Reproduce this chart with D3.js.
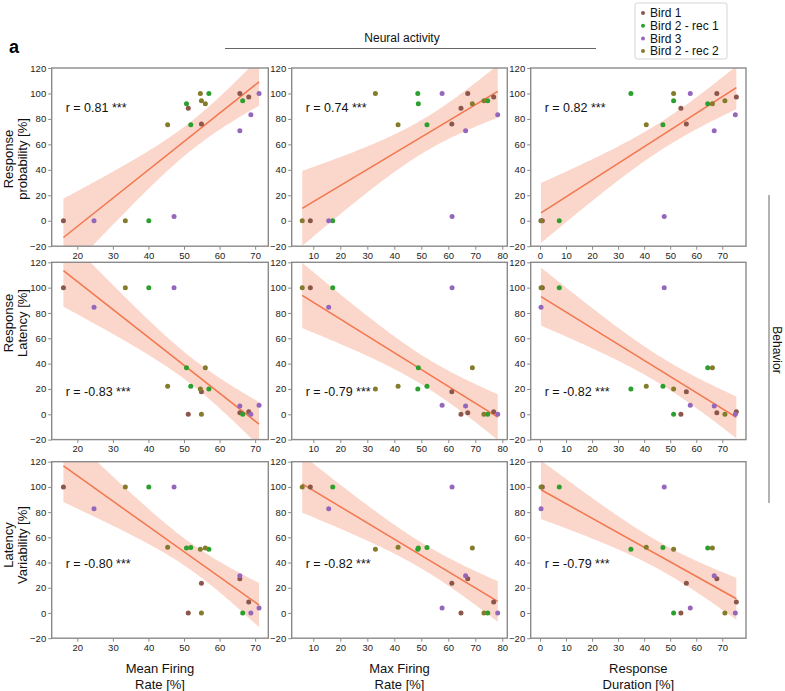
<!DOCTYPE html>
<html>
<head>
<meta charset="utf-8">
<script src="https://cdn.jsdelivr.net/npm/d3@7"></script>
<style>
  body { margin: 0; background: #fff; }
  svg { font-family: "Liberation Sans", Arial, sans-serif; }
</style>
</head>
<body>
<script>
// Birds (legend order)
const birds = ["Bird 1", "Bird 2 - rec 1", "Bird 3", "Bird 2 - rec 2"];

// x variables (neural activity), 5 units per bird
const meanFiring = [
  [16.1, 51.2, 54.9, 65.7, 68.2],
  [40.1, 50.7, 51.9, 57.0, 66.5],
  [24.7, 47.2, 65.7, 68.8, 71.1],
  [33.5, 45.4, 54.6, 54.9, 56.0]
];
const maxFiring = [
  [8.9, 64.7, 61.3, 67.2, 76.8],
  [17.2, 48.9, 52.1, 48.7, 74.6],
  [15.7, 61.4, 66.4, 78.3, 57.7],
  [5.9, 41.4, 33.0, 73.2, 68.9]
];
const respDuration = [
  [0.9, 54.1, 56.2, 67.9, 75.4],
  [7.4, 64.4, 47.2, 34.9, 51.3],
  [0.4, 47.7, 66.9, 75.0, 57.7],
  [0.4, 40.8, 51.3, 71.0, 66.2]
];

// y variables (behavior)
const respProbability = [
  [0, 88.3, 76.0, 100, 97.2],
  [0, 92.0, 75.4, 100, 94.3],
  [0, 3.4, 70.7, 83.3, 100],
  [0, 75.4, 100, 94.3, 92.0]
];
const respLatency = [
  [100, 0, 17.8, 1.3, 1.9],
  [100, 36.8, 22.1, 20.0, 0],
  [84.5, 100, 6.6, 0, 7.1],
  [100, 22.1, 20.0, 0, 36.8]
];
const latencyVariability = [
  [100, 0, 23.5, 27.2, 8.7],
  [100, 51.5, 52.0, 50.5, 0],
  [82.7, 100, 29.6, 0, 4.0],
  [100, 52.1, 50.5, 0, 51.5]
];

// correlation labels [row][col]
const rLabels = [
  ["r = 0.81 ***", "r = 0.74 ***", "r = 0.82 ***"],
  ["r = -0.83 ***", "r = -0.79 ***", "r = -0.82 ***"],
  ["r = -0.80 ***", "r = -0.82 ***", "r = -0.79 ***"]
];

const yTicks = [-20, 0, 20, 40, 60, 80, 100, 120];
const xTicks = [
  [20, 30, 40, 50, 60, 70],
  [10, 20, 30, 40, 50, 60, 70, 80],
  [0, 10, 20, 30, 40, 50, 60, 70]
];

const rowLabels = [["Response", "probability [%]"], ["Response", "Latency [%]"], ["Latency", "Variability [%]"]];
const colLabels = [["Mean Firing", "Rate [%]"], ["Max Firing", "Rate [%]"], ["Response", "Duration [%]"]];

// ---- layout / style ----
const birdColors = ["#8c564b", "#2ca02c", "#9467bd", "#847b2b"];
const lineColor = "#f2764e";
const frameColor = "#8a8a8a";

const colLeft = [51.7, 291.7, 530.7];
const colRight = [268.3, 507.3, 746];
const rowTop = [68, 262.3, 461.7];
const rowBottom = [246.2, 439.6, 638.2];
const xDomains = [[12.8, 73.7], [2.0, 81.85], [-3.57, 79.1]];
const rLabelY = [89, 18, 39];
const rowLabelY = [159, 323, 545];

const xCols = [meanFiring, maxFiring, respDuration];
const yRows = [respProbability, respLatency, latencyVariability];

const fmt = (d) => (d < 0 ? "\u2212" + Math.abs(d) : String(d));

const svg = d3
  .select("body")
  .append("svg")
  .attr("width", 785)
  .attr("height", 691);

const defs = svg.append("defs");

yRows.forEach((yData, r) => {
  xCols.forEach((xData, c) => {
    const x = d3.scaleLinear().domain(xDomains[c]).range([colLeft[c], colRight[c]]);
    const y = d3.scaleLinear().domain([-20, 120]).range([rowBottom[r], rowTop[r]]);

    const pts = [];
    birds.forEach((b, bi) => {
      xData[bi].forEach((xv, i) => {
        pts.push({ bird: bi, x: xv, y: yData[bi][i] });
      });
    });

    // linear fit + 95% confidence band
    const n = pts.length;
    const mx = d3.mean(pts, (p) => p.x);
    const my = d3.mean(pts, (p) => p.y);
    const sxx = d3.sum(pts, (p) => (p.x - mx) ** 2);
    const sxy = d3.sum(pts, (p) => (p.x - mx) * (p.y - my));
    const slope = sxy / sxx;
    const icpt = my - slope * mx;
    const sse = d3.sum(pts, (p) => (p.y - icpt - slope * p.x) ** 2);
    const s = Math.sqrt(sse / (n - 2));
    const t = 2.101; // t(0.975, df=18)
    const [x0, x1] = d3.extent(pts, (p) => p.x);
    const grid = d3.range(0, 101).map((k) => x0 + ((x1 - x0) * k) / 100);
    const band = grid.map((xv) => {
      const yh = icpt + slope * xv;
      const se = s * Math.sqrt(1 / n + (xv - mx) ** 2 / sxx);
      return { x: xv, lo: yh - t * se, hi: yh + t * se };
    });

    const clipId = "clip-" + r + "-" + c;
    defs
      .append("clipPath")
      .attr("id", clipId)
      .append("rect")
      .attr("x", colLeft[c])
      .attr("y", rowTop[r])
      .attr("width", colRight[c] - colLeft[c])
      .attr("height", rowBottom[r] - rowTop[r]);

    const g = svg.append("g");
    const clipped = g.append("g").attr("clip-path", "url(#" + clipId + ")");

    clipped
      .append("path")
      .datum(band)
      .attr("fill", lineColor)
      .attr("fill-opacity", 0.3)
      .attr(
        "d",
        d3
          .area()
          .x((d) => x(d.x))
          .y0((d) => y(d.lo))
          .y1((d) => y(d.hi))
      );

    clipped
      .append("line")
      .attr("x1", x(x0))
      .attr("y1", y(icpt + slope * x0))
      .attr("x2", x(x1))
      .attr("y2", y(icpt + slope * x1))
      .attr("stroke", lineColor)
      .attr("stroke-width", 1.5);

    // axes
    const yAxis = g
      .append("g")
      .attr("transform", "translate(" + colLeft[c] + ",0)")
      .call(d3.axisLeft(y).tickValues(yTicks).tickSize(3.5).tickPadding(2).tickFormat(fmt));
    const xAxis = g
      .append("g")
      .attr("transform", "translate(0," + rowBottom[r] + ")")
      .call(d3.axisBottom(x).tickValues(xTicks[c]).tickSize(3.5).tickPadding(2.5).tickFormat(fmt));
    [yAxis, xAxis].forEach((a) => {
      a.select(".domain").remove();
      a.selectAll(".tick line").attr("stroke", frameColor);
      a.selectAll(".tick text").attr("font-size", 9.5).attr("fill", "#222").attr("font-family", null);
    });

    g.append("rect")
      .attr("x", colLeft[c])
      .attr("y", rowTop[r])
      .attr("width", colRight[c] - colLeft[c])
      .attr("height", rowBottom[r] - rowTop[r])
      .attr("fill", "none")
      .attr("stroke", frameColor)
      .attr("stroke-width", 1.4);

    // dots
    g.selectAll("circle")
      .data(pts)
      .enter()
      .append("circle")
      .attr("cx", (d) => x(d.x))
      .attr("cy", (d) => y(d.y))
      .attr("r", 2.5)
      .attr("fill", (d) => birdColors[d.bird]);

    g.append("text")
      .attr("x", colLeft[c] + 14)
      .attr("y", y(rLabelY[r]))
      .attr("dy", "0.35em")
      .attr("font-size", 12.5)
      .attr("fill", "#111")
      .text(rLabels[r][c]);
  });
});

// row (behavior) labels
rowLabels.forEach((lines, r) => {
  lines.forEach((txt, li) => {
    svg
      .append("text")
      .attr("transform", "translate(" + (8.5 + li * 14) + "," + rowLabelY[r] + ") rotate(-90)")
      .attr("text-anchor", "middle")
      .attr("dy", "0.35em")
      .attr("font-size", 13)
      .attr("fill", "#111")
      .text(txt);
  });
});

// column (neural activity) labels
colLabels.forEach((lines, c) => {
  lines.forEach((txt, li) => {
    svg
      .append("text")
      .attr("x", (colLeft[c] + colRight[c]) / 2)
      .attr("y", 668 + li * 16)
      .attr("dy", "0.35em")
      .attr("text-anchor", "middle")
      .attr("font-size", 13)
      .attr("fill", "#111")
      .text(txt);
  });
});

// panel letter and group titles
svg.append("text").attr("x", 9).attr("y", 53).attr("font-size", 18).attr("font-weight", "bold").text("a");

svg.append("text")
  .attr("x", 402).attr("y", 38).attr("dy", "0.35em")
  .attr("text-anchor", "middle").attr("font-size", 12).attr("fill", "#111")
  .text("Neural activity");
svg.append("line")
  .attr("x1", 225).attr("x2", 596).attr("y1", 48.5).attr("y2", 48.5)
  .attr("stroke", "#666").attr("stroke-width", 1);

svg.append("line")
  .attr("x1", 769).attr("x2", 769).attr("y1", 195).attr("y2", 503)
  .attr("stroke", "#666").attr("stroke-width", 1);
svg.append("text")
  .attr("transform", "translate(777,350) rotate(90)")
  .attr("text-anchor", "middle").attr("dy", "0.35em")
  .attr("font-size", 12).attr("fill", "#111")
  .text("Behavior");

// legend
const legend = svg.append("g").attr("transform", "translate(635,3)");
legend.append("rect")
  .attr("width", 92).attr("height", 56).attr("rx", 2)
  .attr("fill", "#fff").attr("stroke", "#d5d5d5");
birds.forEach((b, i) => {
  const row = legend.append("g").attr("transform", "translate(0," + (10 + i * 12.7) + ")");
  row.append("circle").attr("cx", 8).attr("cy", 0).attr("r", 2).attr("fill", birdColors[i]);
  row.append("text").attr("x", 15).attr("dy", "0.35em").attr("font-size", 12).attr("fill", "#111").text(b);
});
</script>
</body>
</html>
